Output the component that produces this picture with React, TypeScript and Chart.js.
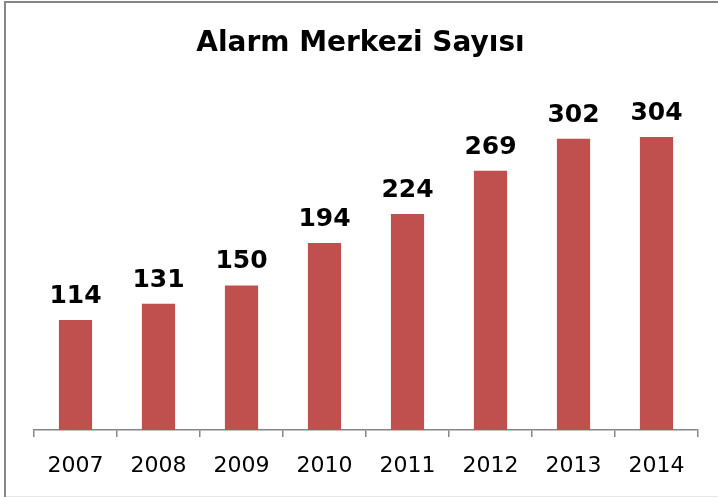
import React, { useEffect, useRef } from "react";
import { Chart, registerables } from "chart.js";

Chart.register(...registerables);

const categories = ["2007", "2008", "2009", "2010", "2011", "2012", "2013", "2014"];
const values = [114, 131, 150, 194, 224, 269, 302, 304];
const titleText = "Alarm Merkezi Sayısı";

const BAR_COLOR = "#C0504D";
const AXIS_COLOR = "#868686";
const FONT = "'DejaVu Sans', Verdana, sans-serif";

const dataLabelPlugin = {
  id: "dataLabels",
  afterDatasetsDraw(chart: any) {
    const ctx = chart.ctx;
    const meta = chart.getDatasetMeta(0);
    ctx.save();
    ctx.font = `bold 25px ${FONT}`;
    ctx.fillStyle = "#000";
    ctx.textAlign = "center";
    ctx.textBaseline = "alphabetic";
    meta.data.forEach((bar: any, i: number) => {
      ctx.fillText(String(chart.data.datasets[0].data[i]), bar.x, bar.y - 17);
    });
    ctx.restore();
  },
};

const frameBorderPlugin = {
  id: "frameBorder",
  afterDraw(chart: any) {
    const ctx = chart.ctx;
    ctx.save();
    ctx.strokeStyle = AXIS_COLOR;
    ctx.lineWidth = 2;
    ctx.beginPath();
    ctx.moveTo(5, 497);
    ctx.lineTo(5, 2);
    ctx.lineTo(718, 2);
    ctx.stroke();
    ctx.strokeStyle = "#e6e6e6";
    ctx.lineWidth = 1;
    ctx.beginPath();
    ctx.moveTo(6, 496.5);
    ctx.lineTo(718, 496.5);
    ctx.stroke();
    ctx.restore();
  },
};

export default function App() {
  const canvasRef = useRef<HTMLCanvasElement | null>(null);

  useEffect(() => {
    if (!canvasRef.current) return;
    const chart = new Chart(canvasRef.current, {
      type: "bar",
      data: {
        labels: categories,
        datasets: [
          {
            data: values,
            backgroundColor: BAR_COLOR,
            borderWidth: 0,
            categoryPercentage: 1,
            barPercentage: 0.4,
          },
        ],
      },
      options: {
        animation: false,
        responsive: false,
        maintainAspectRatio: false,
        layout: { padding: { left: 23, right: 20, top: 0, bottom: 0 } },
        plugins: {
          legend: { display: false },
          tooltip: { enabled: false },
          title: {
            display: true,
            text: titleText,
            color: "#000",
            font: { family: FONT, size: 28, weight: "bold", lineHeight: 1.2 },
            padding: { top: 27, bottom: 32 },
          },
        },
        scales: {
          x: {
            grid: {
              offset: true,
              drawOnChartArea: false,
              drawTicks: true,
              tickLength: 7,
              color: AXIS_COLOR,
              lineWidth: 1.5,
            },
            border: { display: true, color: AXIS_COLOR, width: 1.5 },
            ticks: {
              color: "#000",
              font: { family: FONT, size: 22 },
              padding: 16,
              maxRotation: 0,
            },
            afterFit(scale: any) {
              scale.height = 67;
            },
          },
          y: {
            display: true,
            min: 0,
            max: 350,
            grid: { display: false, drawTicks: false },
            border: { display: false },
            ticks: { display: false },
            afterFit(scale: any) {
              scale.width = 11;
            },
          },
        },
      },
      plugins: [dataLabelPlugin, frameBorderPlugin],
    });
    return () => chart.destroy();
  }, []);

  return (
    <div style={{ position: "absolute", left: 0, top: 0, width: 718, height: 497, background: "#fff" }}>
      <canvas ref={canvasRef} width={718} height={497} style={{ display: "block" }} />
    </div>
  );
}
